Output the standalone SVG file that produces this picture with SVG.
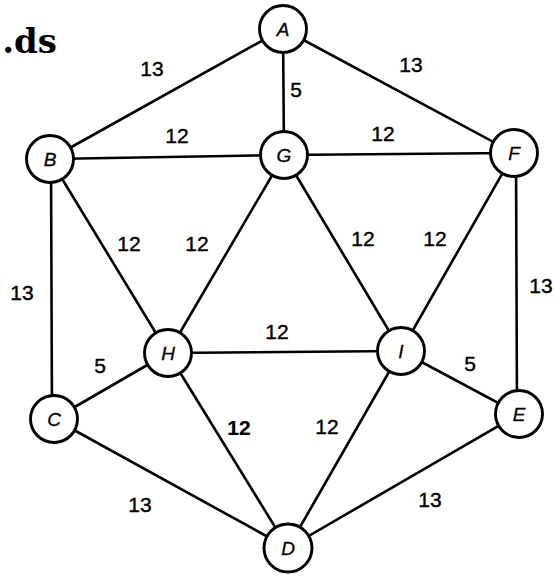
<svg xmlns="http://www.w3.org/2000/svg" width="555" height="577" viewBox="0 0 555 577">
<style>
.e{stroke:#000;stroke-width:2.6;fill:none;stroke-linecap:round}
.n circle{fill:#fff;stroke:#000;stroke-width:2.9}
.n text{font-family:"Liberation Sans",Arial,sans-serif;font-style:italic;font-size:19px;text-anchor:middle;dominant-baseline:central;stroke:#000;stroke-width:0.3}
.w{font-family:"Liberation Sans",Arial,sans-serif;font-size:21px;text-anchor:middle;dominant-baseline:central;stroke:#000;stroke-width:0.4}
.b{font-weight:bold;stroke-width:0.2}
</style>
<rect width="555" height="577" fill="#fff"/>
<text x="57" y="53" font-family="DejaVu Serif,serif" font-weight="bold" font-size="34" text-anchor="end">.ds</text>
<g id="connectors">
<line class="e" x1="50" y1="159" x2="283" y2="29"/>
<line class="e" x1="283" y1="29" x2="284" y2="155"/>
<line class="e" x1="283" y1="29" x2="514" y2="153"/>
<line class="e" x1="50" y1="159" x2="284" y2="155"/>
<line class="e" x1="284" y1="155" x2="514" y2="153"/>
<line class="e" x1="50" y1="159" x2="168" y2="353"/>
<line class="e" x1="284" y1="155" x2="168" y2="353"/>
<line class="e" x1="284" y1="155" x2="401" y2="351"/>
<line class="e" x1="514" y1="153" x2="401" y2="351"/>
<line class="e" x1="51" y1="159" x2="52" y2="419"/>
<line class="e" x1="516" y1="153" x2="517" y2="414"/>
<line class="e" x1="168" y1="353" x2="401" y2="351"/>
<line class="e" x1="54" y1="419" x2="168" y2="353"/>
<line class="e" x1="401" y1="351" x2="519" y2="414"/>
<line class="e" x1="168" y1="353" x2="288" y2="548"/>
<line class="e" x1="54" y1="419" x2="288" y2="548"/>
<line class="e" x1="401" y1="351" x2="288" y2="548"/>
<line class="e" x1="519" y1="414" x2="288" y2="548"/>
</g>
<g id="labels">
<text class="w" x="152" y="68">13</text>
<text class="w" x="296" y="89">5</text>
<text class="w" x="411" y="64">13</text>
<text class="w" x="177" y="135">12</text>
<text class="w" x="383" y="133">12</text>
<text class="w" x="22" y="292">13</text>
<text class="w" x="129" y="243">12</text>
<text class="w" x="197" y="243">12</text>
<text class="w" x="363" y="238">12</text>
<text class="w" x="435" y="238">12</text>
<text class="w" x="541" y="285">13</text>
<text class="w" x="277" y="331">12</text>
<text class="w" x="100" y="365">5</text>
<text class="w" x="470" y="363">5</text>
<text class="w b" x="239" y="427">12</text>
<text class="w" x="327" y="426">12</text>
<text class="w" x="140" y="504">13</text>
<text class="w" x="430" y="499">13</text>
</g>
<g id="A" class="n"><circle cx="283" cy="29" r="23.5"/><text x="283" y="29">A</text></g>
<g id="B" class="n"><circle cx="50" cy="159" r="23.5"/><text x="50" y="159">B</text></g>
<g id="G" class="n"><circle cx="284" cy="155" r="23.5"/><text x="284" y="155">G</text></g>
<g id="F" class="n"><circle cx="514" cy="153" r="23.5"/><text x="514" y="153">F</text></g>
<g id="H" class="n"><circle cx="168" cy="353" r="23.5"/><text x="168" y="353">H</text></g>
<g id="I" class="n"><circle cx="401" cy="351" r="23.5"/><text x="401" y="351">I</text></g>
<g id="C" class="n"><circle cx="54" cy="419" r="23.5"/><text x="54" y="419">C</text></g>
<g id="E" class="n"><circle cx="519" cy="414" r="23.5"/><text x="519" y="414">E</text></g>
<g id="D" class="n"><circle cx="288" cy="548" r="24"/><text x="288" y="548">D</text></g>
</svg>
